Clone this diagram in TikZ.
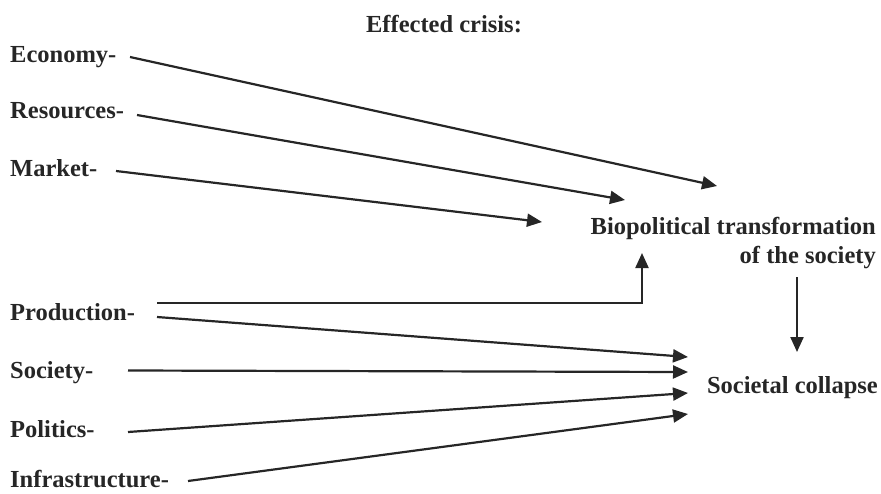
\documentclass[tikz,border=0pt]{standalone}
\usepackage{fontspec}
\setmainfont{Liberation Serif}
\usetikzlibrary{arrows.meta}
\begin{document}
\begin{tikzpicture}[x=1pt,y=-1pt,
  lbl/.style={font=\fontsize{24.5}{28}\selectfont\bfseries, inner sep=0pt, text=black!85},
  arr/.style={line width=2.2pt, draw=black!85, -{Triangle[length=15pt,width=13pt]}}]
\useasboundingbox (0,0) rectangle (881,493);
% labels
\node[lbl,anchor=base] (title) at (444,32) {Effected crisis:};
\node[lbl,anchor=base west] (eco) at (10,62) {Economy-};
\node[lbl,anchor=base west] (res) at (10,118) {Resources-};
\node[lbl,anchor=base west] (mar) at (10,176) {Market-};
\node[lbl,anchor=base west] (pro) at (10,320) {Production-};
\node[lbl,anchor=base west] (soc) at (10,378) {Society-};
\node[lbl,anchor=base west] (pol) at (10,437) {Politics-};
\node[lbl,anchor=base west] (inf) at (10,487) {Infrastructure-};
\node[lbl,anchor=base east] (bio1) at (876,234) {Biopolitical transformation};
\node[lbl,anchor=base east] (bio2) at (876,263) {of the society};
\node[lbl,anchor=base east] (col) at (878,393) {Societal collapse};
% connector ends
\coordinate (ecoS) at (130,57);  \coordinate (ecoT) at (717,186);
\coordinate (resS) at (137,115); \coordinate (resT) at (625,200);
\coordinate (marS) at (116,171); \coordinate (marT) at (542,222);
\coordinate (proS1) at (157,303); \coordinate (bioIn) at (642,253);
\coordinate (proS2) at (157,317); \coordinate (colA) at (688,357);
\coordinate (socS) at (128,370.5); \coordinate (colB) at (688,372);
\coordinate (polS) at (128,432); \coordinate (colC) at (688,393);
\coordinate (infS) at (188,481); \coordinate (colD) at (688,414);
\coordinate (bioOut) at (797,277); \coordinate (colTop) at (797,352);
% connectors
\draw[arr] (ecoS) -- (ecoT);
\draw[arr] (resS) -- (resT);
\draw[arr] (marS) -- (marT);
\draw[arr] (proS1) -| (bioIn);
\draw[arr] (proS2) -- (colA);
\draw[arr] (socS) -- (colB);
\draw[arr] (polS) -- (colC);
\draw[arr] (infS) -- (colD);
\draw[arr] (bioOut) -- (colTop);
\end{tikzpicture}
\end{document}
